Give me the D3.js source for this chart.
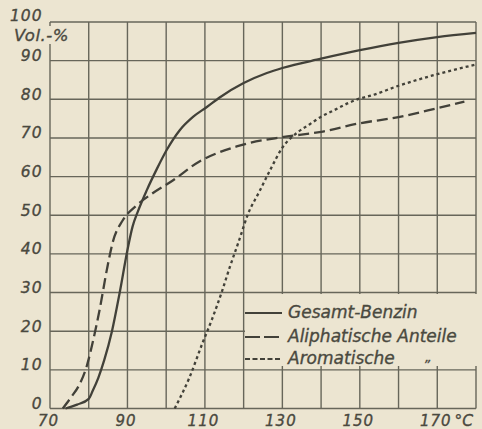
<!DOCTYPE html>
<html>
<head>
<meta charset="utf-8">
<script src="https://cdn.jsdelivr.net/npm/d3@7"></script>
<style>
  html, body { margin: 0; padding: 0; background: #ece5d1; }
  svg { display: block; }
  text { font-family: "DejaVu Sans", sans-serif; font-style: italic; fill: #4a493f; stroke: #4a493f; stroke-width: 0.35px; }
</style>
</head>
<body>
<svg id="chart" width="482" height="429"></svg>
<script>
// ---- data ----
const xTickLabels = [70, 90, 110, 130, 150, 170];
const yTickLabels = [0, 10, 20, 30, 40, 50, 60, 70, 80, 90, 100];
const xGrid = [70, 80, 90, 100, 110, 120, 130, 140, 150, 160, 170, 180];
const yGrid = [0, 10, 20, 30, 40, 50, 60, 70, 80, 90, 100];

const seriesNames = ["Gesamt-Benzin", "Aliphatische Anteile", "Aromatische"];

const gesamtT = [74, 77, 80, 81, 82.5, 84, 86, 88, 90, 91.3, 92.7, 95, 97.6, 100.2, 103.5, 107, 110.5, 114, 120, 126, 130, 140, 150, 160, 170, 180];
const gesamtV = [0, 1, 2.5, 4.5, 8, 12.5, 20, 30, 41, 47, 51, 56.5, 62, 67, 72, 75.5, 78, 80.6, 84.2, 86.8, 88.1, 90.5, 92.7, 94.6, 96.1, 97.2];

const aliphT = [73.3, 75.5, 77.5, 79.5, 81, 82.9, 84.7, 86.2, 88.8, 92.4, 96.5, 101.7, 108.7, 113, 118.2, 121.5, 130, 140, 150, 160, 170, 177];
const aliphV = [0, 3, 6, 11, 17, 26, 36, 43, 48.7, 52.6, 55.7, 59, 64, 66, 67.8, 68.7, 70.2, 71.6, 73.8, 75.4, 77.7, 79.4];

const aromT = [102.2, 106, 109.4, 111.8, 114.3, 116.4, 119, 121, 124, 127, 130, 134, 137, 140, 143, 147, 150, 153, 160, 170, 180];
const aromV = [0, 8, 17, 23, 30, 36.5, 44, 50, 56, 62, 67.5, 71.5, 73.5, 75.5, 77, 79, 80.2, 81, 83.5, 86.5, 89];

// ---- drawing ----
const svg = d3.select("#chart");
const paper = "#ece5d1";
const gridColor = "#67665a";
const inkColor = "#424139";

svg.append("rect").attr("width", 482).attr("height", 429).attr("fill", paper);

const x = d3.scaleLinear().domain([70, 180]).range([50, 476]);
const y = d3.scaleLinear().domain([0, 100]).range([408.5, 22]);

// grid
const grid = svg.append("g");
grid.selectAll("line.v").data(xGrid).join("line")
  .attr("x1", d => x(d)).attr("x2", d => x(d))
  .attr("y1", y(0)).attr("y2", y(100))
  .attr("stroke", gridColor).attr("stroke-width", 1.4);
grid.selectAll("line.h").data(yGrid).join("line")
  .attr("x1", x(70)).attr("x2", x(180))
  .attr("y1", d => y(d)).attr("y2", d => y(d))
  .attr("stroke", gridColor).attr("stroke-width", 1.4);

// legend mask (covers the grid where the legend sits)
svg.append("rect").attr("x", 245).attr("y", 294).attr("width", 234).attr("height", 72).attr("fill", paper);

// curves
const line = d3.line().x(d => x(d[0])).y(d => y(d[1])).curve(d3.curveMonotoneX);
const zip = (a, b) => a.map((t, i) => [t, b[i]]);
const curves = [
  { data: zip(gesamtT, gesamtV), dash: null },
  { data: zip(aliphT, aliphV), dash: "11,5" },
  { data: zip(aromT, aromV), dash: "3,3" }
];
svg.append("g").selectAll("path").data(curves).join("path")
  .attr("d", d => line(d.data))
  .attr("fill", "none")
  .attr("stroke", inkColor)
  .attr("stroke-width", 2.3)
  .attr("stroke-dasharray", d => d.dash);

// axes (labels only)
const xAxis = svg.append("g").attr("transform", `translate(-2,${y(0)})`)
  .call(d3.axisBottom(x).tickValues(xTickLabels).tickSize(0).tickPadding(0).tickFormat(d3.format("d")));
xAxis.select(".domain").remove();
xAxis.selectAll("text").attr("dy", null).attr("y", 17.5)
  .style("font-size", "15px").style("letter-spacing", "1px");

const yAxis = svg.append("g").attr("transform", `translate(42.5,0)`)
  .call(d3.axisLeft(y).tickValues(yTickLabels).tickSize(0).tickPadding(0).tickFormat(d3.format("d")));
yAxis.select(".domain").remove();
yAxis.selectAll("text").attr("dy", "0").attr("y", 0)
  .style("font-size", "15.5px").style("letter-spacing", "1px")
  .attr("text-anchor", "end");
yAxis.selectAll(".tick").filter(d => d === 100).select("text").attr("y", -2);

// unit labels
svg.append("rect").attr("x", 14).attr("y", 26).attr("width", 60).attr("height", 18).attr("fill", paper);
svg.append("text").attr("x", 14).attr("y", 41).style("font-size", "16.5px").style("letter-spacing", "0.5px").text("Vol.-%");
svg.append("text").attr("x", 454.5).attr("y", 426).style("font-size", "15.5px").text("°C");

// legend
const legendY = [313, 337, 359];
const legendDash = [null, "15,4", "5,2.5"];
const lg = svg.append("g");
lg.selectAll("line").data(seriesNames).join("line")
  .attr("x1", 245).attr("x2", 282)
  .attr("y1", (d, i) => legendY[i]).attr("y2", (d, i) => legendY[i])
  .attr("stroke", inkColor).attr("stroke-width", 2)
  .attr("stroke-dasharray", (d, i) => legendDash[i]);
lg.selectAll("text").data(seriesNames).join("text")
  .attr("x", 288).attr("y", (d, i) => legendY[i] + 5)
  .style("font-size", "17px")
  .text(d => d);
lg.append("text").attr("x", 425).attr("y", 362).style("font-size", "13px").text("„");
</script>
</body>
</html>
